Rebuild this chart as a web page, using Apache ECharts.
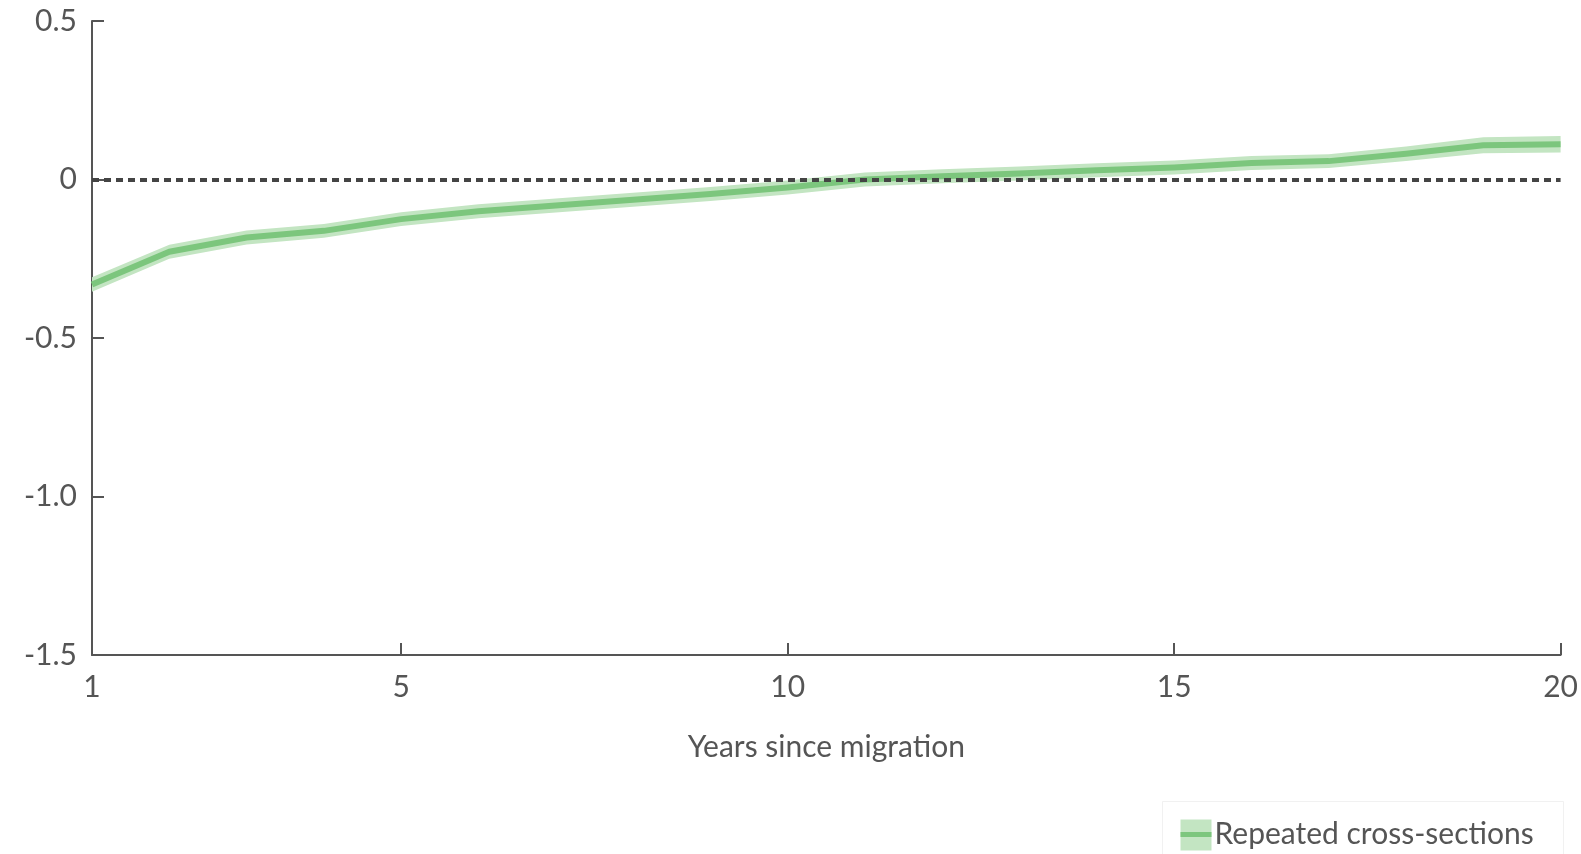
<!DOCTYPE html>
<html>
<head>
<meta charset="utf-8">
<title>Years since migration</title>
<script src="https://cdn.jsdelivr.net/npm/echarts@6/dist/echarts.min.js"></script>
<style>
  html, body { margin: 0; padding: 0; background: #ffffff; }
  #chart { width: 1581px; height: 854px; }
</style>
</head>
<body>
<div id="chart"></div>
<script>
// Years since migration (x) and estimated gap with its confidence band (y)
const years = [1, 2, 3, 4, 5, 6, 7, 8, 9, 10, 11, 12, 13, 14, 15, 16, 17, 18, 19, 20];
const estimate = [-0.331, -0.228, -0.183, -0.162, -0.125, -0.100, -0.082, -0.064, -0.046, -0.025,
                  0.000, 0.010, 0.019, 0.029, 0.038, 0.052, 0.058, 0.081, 0.108, 0.111];
const lowerBound = [-0.354, -0.250, -0.205, -0.184, -0.147, -0.122, -0.104, -0.086, -0.068, -0.047,
                    -0.022, -0.012, -0.003, 0.007, 0.016, 0.030, 0.036, 0.058, 0.083, 0.085];
const upperBound = [-0.308, -0.206, -0.161, -0.140, -0.103, -0.078, -0.060, -0.042, -0.024, -0.003,
                    0.022, 0.032, 0.041, 0.051, 0.060, 0.074, 0.080, 0.104, 0.133, 0.137];
const yTicks = [-1.5, -1.0, -0.5, 0, 0.5];
const yTickLabels = ['-1.5', '-1.0', '-0.5', '0', '0.5'];
const xTicks = [1, 5, 10, 15, 20];
const seriesName = 'Repeated cross-sections';
const xTitle = 'Years since migration';

const FONT = 'Lato, "Open Sans", sans-serif';
const INK = '#555555';
const LINE_GREEN = '#7cc67d';
const BAND_GREEN = '#c3e5c2';
const FS = 30;

const pairs = (ys) => years.map((x, i) => [x, ys[i]]);
const bandRows = years.map((x, i) => [x, lowerBound[i], upperBound[i]]);

// Confidence band: one polygon running along the upper bound and back along the lower bound
function renderBand(params, api) {
  if (params.dataIndex !== 0) return null;
  const top = bandRows.map(r => api.coord([r[0], r[2]]));
  const bottom = bandRows.map(r => api.coord([r[0], r[1]])).reverse();
  return {
    type: 'polygon',
    shape: { points: top.concat(bottom) },
    style: { fill: BAND_GREEN, stroke: null },
    silent: true
  };
}

const chart = echarts.init(document.getElementById('chart'), null, { renderer: 'canvas' });

chart.setOption({
  animation: false,
  backgroundColor: '#ffffff',
  grid: { left: 92, right: 19, top: 21, bottom: 199, containLabel: false },
  xAxis: {
    type: 'value',
    min: 1,
    max: 20,
    name: xTitle,
    nameLocation: 'middle',
    nameGap: 77,
    nameTextStyle: { color: INK, fontFamily: FONT, fontSize: FS },
    axisLine: { show: true, onZero: false, lineStyle: { color: INK, width: 2 } },
    axisTick: {
      show: true, inside: true, length: 12,
      lineStyle: { color: INK, width: 2 },
      customValues: xTicks
    },
    axisLabel: {
      color: INK, fontFamily: FONT, fontSize: FS, margin: 17,
      customValues: xTicks
    },
    splitLine: { show: false }
  },
  yAxis: {
    type: 'value',
    min: -1.5,
    max: 0.5,
    interval: 0.5,
    axisLine: { show: true, onZero: false, lineStyle: { color: INK, width: 2 } },
    axisTick: {
      show: true, inside: true, length: 12,
      lineStyle: { color: INK, width: 2 }
    },
    axisLabel: {
      color: INK, fontFamily: FONT, fontSize: FS, margin: 15,
      formatter: (v) => {
        const i = yTicks.findIndex(t => Math.abs(t - v) < 1e-9);
        return i >= 0 ? yTickLabels[i] : '';
      }
    },
    splitLine: { show: false }
  },
  series: [
    {
      name: 'band',
      type: 'custom',
      renderItem: renderBand,
      data: bandRows,
      encode: { x: 0, y: [1, 2] },
      clip: true,
      silent: true,
      z: 1
    },
    {
      name: seriesName,
      type: 'line',
      data: pairs(estimate),
      symbol: 'none',
      lineStyle: { color: LINE_GREEN, width: 6, join: 'round' },
      z: 3,
      markLine: {
        silent: true,
        symbol: 'none',
        label: { show: false },
        lineStyle: { color: '#444444', width: 4, type: [7, 5], opacity: 1 },
        data: [{ yAxis: 0 }],
        z: 5
      }
    }
  ],
  graphic: [
    {
      type: 'group',
      left: 1162,
      top: 801,
      children: [
        {
          type: 'rect',
          shape: { x: 0, y: 0, width: 401, height: 70 },
          style: { fill: '#ffffff', stroke: '#f1f1f1', lineWidth: 1 }
        },
        {
          type: 'rect',
          shape: { x: 18, y: 18, width: 31, height: 31 },
          style: { fill: BAND_GREEN }
        },
        {
          type: 'line',
          shape: { x1: 18, y1: 33, x2: 49, y2: 33 },
          style: { stroke: LINE_GREEN, lineWidth: 5 }
        },
        {
          type: 'text',
          x: 52,
          y: 33,
          style: {
            text: seriesName,
            fill: INK,
            font: FS + 'px ' + FONT,
            verticalAlign: 'middle',
            align: 'left'
          }
        }
      ]
    }
  ]
});
</script>
</body>
</html>
